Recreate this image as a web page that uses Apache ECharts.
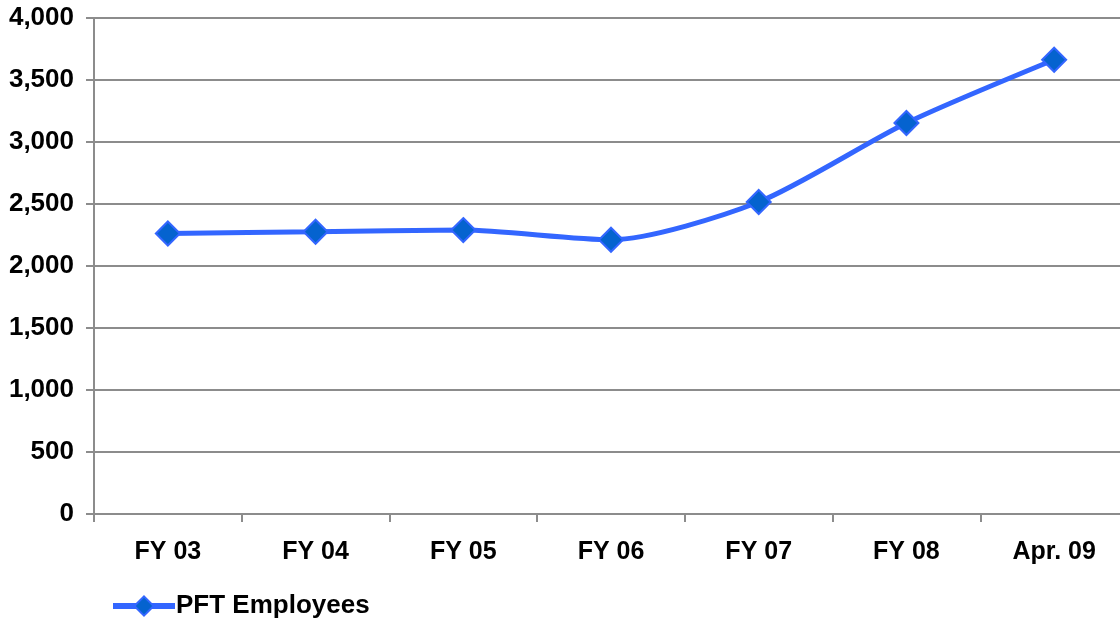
<!DOCTYPE html>
<html><head><meta charset="utf-8">
<script src="https://cdn.jsdelivr.net/npm/echarts@6/dist/echarts.min.js"></script>
<style>html,body{margin:0;padding:0;background:#fff;overflow:hidden}#c{width:1130px;height:619px}</style>
</head><body><div id="c"></div>
<script>
const categories = ['FY 03','FY 04','FY 05','FY 06','FY 07','FY 08','Apr. 09'];
const employees = [2262, 2276, 2290, 2212, 2516, 3153, 3663];
const yTicks = {min: 0, max: 4000, interval: 500};

const chart = echarts.init(document.getElementById('c'), null, {renderer: 'canvas'});
const font = '"Liberation Sans", Arial, sans-serif';
chart.setOption({
  animation: false,
  backgroundColor: '#fff',
  grid: {left: 94, top: 18, right: 2, bottom: 105, containLabel: false},
  legend: {
    left: 105, top: 588, itemWidth: 62, itemHeight: 24, itemGap: 4,
    textStyle: {fontFamily: font, fontWeight: 'bold', fontSize: 26, color: '#000', padding: [0,0,0,-4]},
    data: [{name: 'PFT Employees', lineStyle: {width: 6, color: '#3366ff'}}]
  },
  xAxis: {
    type: 'category', data: categories, boundaryGap: true,
    axisLine: {lineStyle: {color: '#8c8c8c', width: 2}},
    axisTick: {show: true, length: 8, lineStyle: {color: '#8c8c8c', width: 2}},
    axisLabel: {fontFamily: font, fontWeight: 'bold', fontSize: 25, color: '#000', margin: 26}
  },
  yAxis: {
    type: 'value', min: yTicks.min, max: yTicks.max, interval: yTicks.interval,
    axisLine: {show: true, lineStyle: {color: '#8c8c8c', width: 2}},
    axisTick: {show: true, length: 8, lineStyle: {color: '#8c8c8c', width: 2}},
    splitLine: {lineStyle: {color: '#8c8c8c', width: 2}},
    axisLabel: {fontFamily: font, fontWeight: 'bold', fontSize: 26, color: '#000', margin: 20,
      formatter: v => v.toLocaleString('en-US')}
  },
  series: [{
    name: 'PFT Employees', type: 'line', data: employees, smooth: 0.25,
    symbol: 'diamond', symbolSize: 24,
    lineStyle: {color: '#3366ff', width: 5},
    itemStyle: {color: '#0563cf', borderColor: '#3366ff', borderWidth: 2}
  }]
});
</script></body></html>
